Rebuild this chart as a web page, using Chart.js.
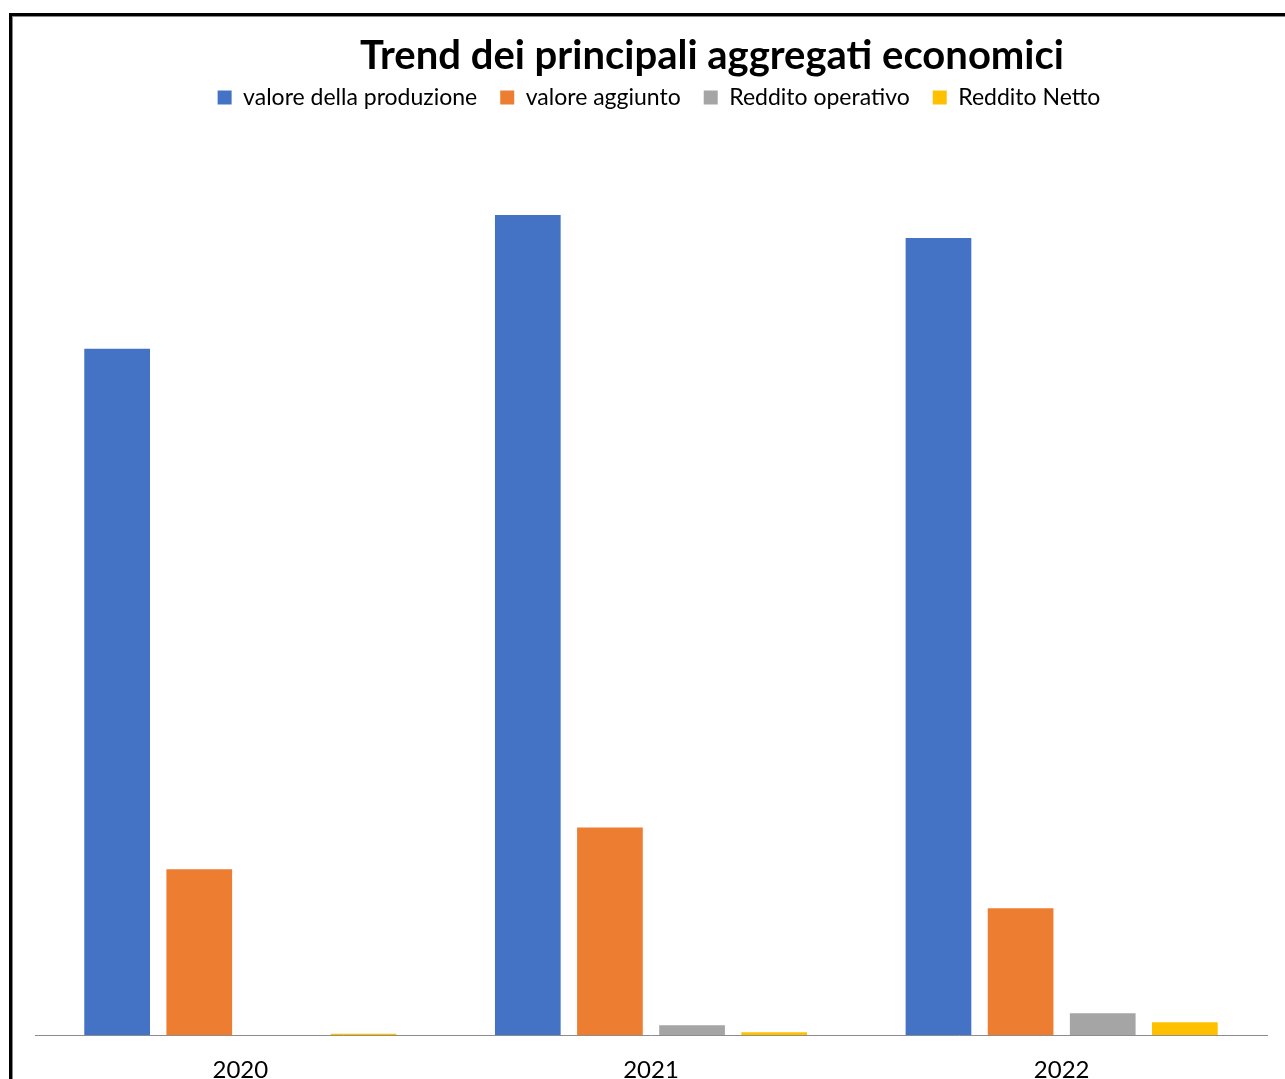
<!DOCTYPE html>
<html>
<head>
<meta charset="utf-8">
<script src="https://cdn.jsdelivr.net/npm/chart.js@4"></script>
<style>
    html, body { margin: 0; padding: 0; background: #fff; overflow: hidden; }
    #frame {
        position: absolute; left: 9px; top: 13px; width: 1400px; height: 1200px;
        border-left: 3px solid #000; border-top: 3px solid #000;
        box-shadow: inset 1px 1px 0 #888;
    }
    #wrap { position: absolute; left: 0; top: 0; width: 1285px; height: 1125px; }
</style>
</head>
<body>
<div id="frame"></div>
<div id="wrap"><canvas id="chart"></canvas></div>
<script>
// Trend dei principali aggregati economici (arbitrary units)
const years = ['2020', '2021', '2022'];
const valoreProduzione = [687, 821, 798];
const valoreAggiunto = [166, 208, 127];
const redditoOperativo = [0, 10, 22];
const redditoNetto = [1.5, 3, 13];

const chartTitle = 'Trend dei principali aggregati economici';
const FONT = 'Lato, "Open Sans", sans-serif';

// title sits a bit right of centre in the original, so draw it ourselves
const titlePlugin = {
    id: 'offsetTitle',
    afterDraw(chart) {
        const ctx = chart.ctx;
        ctx.save();
        ctx.font = 'bold 40px ' + FONT;
        ctx.fillStyle = '#000';
        ctx.textAlign = 'center';
        ctx.textBaseline = 'middle';
        ctx.fillText(chartTitle, 712, 56);
        ctx.restore();
    }
};

new Chart(document.getElementById('chart'), {
    type: 'bar',
    data: {
        labels: years,
        datasets: [
            { label: 'valore della produzione', data: valoreProduzione, backgroundColor: '#4472C4' },
            { label: 'valore aggiunto', data: valoreAggiunto, backgroundColor: '#ED7D31' },
            { label: 'Reddito operativo', data: redditoOperativo, backgroundColor: '#A5A5A5' },
            { label: 'Reddito Netto', data: redditoNetto, backgroundColor: '#FFC000' }
        ]
    },
    options: {
        responsive: true,
        maintainAspectRatio: false,
        animation: false,
        datasets: { bar: { categoryPercentage: 0.8, barPercentage: 0.8 } },
        layout: { padding: { top: 63, left: 35, right: 2, bottom: 19 } },
        plugins: {
            title: { display: false },
            tooltip: { enabled: false },
            legend: {
                position: 'top',
                labels: {
                    color: '#000',
                    font: { family: FONT, size: 23 },
                    boxWidth: 14,
                    boxHeight: 14,
                    padding: 23
                }
            }
        },
        scales: {
            x: {
                grid: { display: false, drawTicks: false },
                border: { display: true, color: '#8c8c8c', width: 1 },
                ticks: { color: '#000', font: { family: FONT, size: 24 }, padding: 21 }
            },
            y: {
                position: 'right',
                min: 0,
                max: 917,
                grid: { display: false, drawTicks: false },
                border: { display: false },
                ticks: { display: false },
                afterFit(scale) { scale.width = 16; }
            }
        }
    },
    plugins: [titlePlugin]
});
</script>
</body>
</html>
